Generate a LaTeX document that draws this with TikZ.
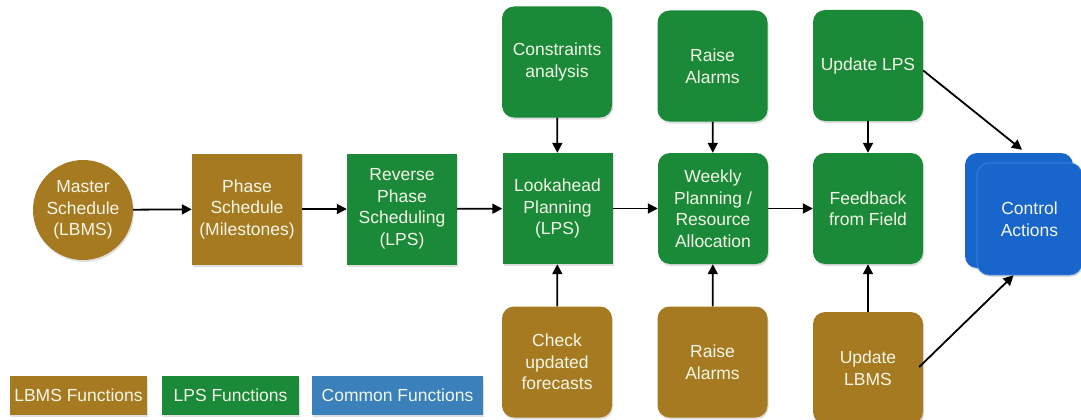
\documentclass[tikz,border=0pt]{standalone}
\usepackage{fontspec}
\setmainfont{Liberation Sans}
\usetikzlibrary{arrows.meta,shadows,calc}
\definecolor{lbms}{RGB}{166,122,32}
\definecolor{lps}{RGB}{26,137,56}
\definecolor{ctrl}{RGB}{24,102,204}
\definecolor{ctrlline}{RGB}{70,135,225}
\definecolor{common}{RGB}{58,128,186}
\definecolor{txt}{RGB}{244,246,232}
\tikzset{
  base/.style={text=txt, font=\fontsize{17.5}{21.5}\selectfont, align=center, inner sep=0pt,
    drop shadow={opacity=0.25, shadow xshift=1pt, shadow yshift=-2pt}},
  sq/.style={base, rectangle, minimum width=110pt, minimum height=111pt},
  rsq/.style={sq, rounded corners=12pt},
  brown/.style={fill=lbms},
  green/.style={fill=lps},
  legend/.style={base, rectangle, minimum height=39pt},
  conn/.style={line width=1.8pt, -{Triangle[length=10pt,width=10pt]}},
}
\begin{document}
\begin{tikzpicture}[x=1pt,y=-1pt]
\useasboundingbox (0,0) rectangle (1081,420);
% main row
\node[base, brown, circle, minimum size=100pt] (master) at (83,210) {Master\\Schedule\\(LBMS)};
\node[sq, brown] (phase) at (247,209) {Phase\\Schedule\\(Milestones)};
\node[sq, green] (reverse) at (402,209) {Reverse\\Phase\\Scheduling\\(LPS)};
\node[sq, green] (look) at (557.5,208.5) {Lookahead\\Planning\\(LPS)};
\node[rsq, green] (weekly) at (713,208.5) {Weekly\\Planning /\\Resource\\Allocation};
\node[rsq, green] (feed) at (868,208.5) {Feedback\\from Field};
% top row
\node[rsq, green] (constr) at (557,62) {Constraints\\analysis};
\node[rsq, green] (alarmtop) at (712.5,66) {Raise\\Alarms};
\node[rsq, green] (updlps) at (868,65.5) {Update LPS};
% bottom row
\node[rsq, brown] (check) at (557,362) {Check\\updated\\forecasts};
\node[rsq, brown] (alarmbot) at (712.5,362) {Raise\\Alarms};
\node[rsq, brown, minimum height=112pt] (updlbms) at (868,368) {Update\\LBMS};
% control actions
\node[base, rectangle, rounded corners=12pt, fill=ctrl, minimum width=108pt, minimum height=115pt] (ctrlA) at (1019,210.5) {};
\node[base, rectangle, rounded corners=12pt, fill=ctrl, draw=ctrlline, line width=0.6pt, minimum width=105pt, minimum height=112pt] (ctrlB) at (1029.5,219) {Control\\Actions};
% legend
\node[legend, brown, minimum width=137pt] (legl) at (78.5,395.5) {LBMS Functions};
\node[legend, green, minimum width=137pt] (legp) at (230.5,395.5) {LPS Functions};
\node[legend, fill=common, minimum width=171pt] (legc) at (397.5,395.5) {Common Functions};
% connectors
\draw[conn] (master) -- (phase);
\draw[conn] (phase) -- (reverse);
\draw[conn] (reverse) -- (look);
\draw[conn] (look) -- (weekly);
\draw[conn] (weekly) -- (feed);
\draw[conn] (constr) -- (look);
\draw[conn] (alarmtop) -- (weekly);
\draw[conn] (updlps) -- (feed);
\draw[conn] (check) -- (look);
\draw[conn] (alarmbot) -- (weekly);
\draw[conn] (updlbms) -- (feed);
\draw[conn] ($(updlps.east)+(0,5)$) -- ($(ctrlA.north)+(3,-3)$);
\draw[conn] ($(updlbms.east)+(-4,-1)$) -- ($(ctrlB.south)+(-16,0)$);
\end{tikzpicture}
\end{document}
